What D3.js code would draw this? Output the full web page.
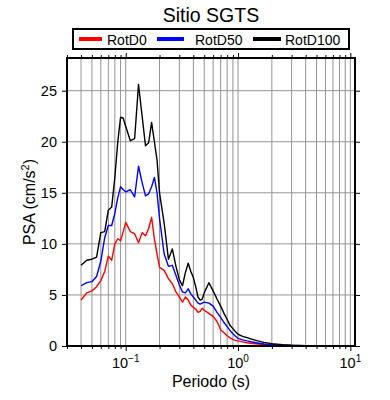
<!DOCTYPE html>
<html>
<head>
<meta charset="utf-8">
<script src="https://cdn.jsdelivr.net/npm/d3@7"></script>
<style>
  body { margin: 0; background: #fff; }
  text { font-family: "Liberation Sans", Arial, Helvetica, sans-serif; fill: #000; }
</style>
</head>
<body>
<svg id="chart" width="390" height="400"></svg>
<script>
// periods (s)
var periods = [0.04, 0.045, 0.05, 0.055, 0.06, 0.065, 0.07, 0.075, 0.08, 0.085, 0.09, 0.095,
  0.1, 0.11, 0.12, 0.13, 0.14, 0.15, 0.16, 0.17, 0.18, 0.19, 0.2, 0.22, 0.24, 0.26, 0.28,
  0.3, 0.32, 0.34, 0.36, 0.38, 0.4, 0.42, 0.44, 0.46, 0.48, 0.5, 0.55, 0.6, 0.65, 0.7,
  0.75, 0.8, 0.85, 0.9, 0.95, 1.0, 1.1, 1.2, 1.3, 1.5, 1.7, 2.0, 2.5, 3.0, 4.0, 5.0,
  6.0, 7.5, 10.0];

// PSA (cm/s2)
var rotD0 = [4.5, 5.2, 5.4, 5.8, 6.4, 7.3, 8.8, 8.4, 10.0, 10.5, 10.3, 11.2,
  12.1, 11.2, 11.0, 10.1, 11.1, 10.8, 11.5, 12.6, 10.5, 9.0, 7.7, 7.4, 6.6, 6.1, 5.3,
  4.8, 4.3, 4.8, 4.5, 4.0, 3.8, 3.6, 3.3, 3.4, 3.7, 3.5, 3.2, 2.9, 2.4, 1.6,
  1.3, 1.0, 0.8, 0.65, 0.55, 0.5, 0.4, 0.32, 0.27, 0.2, 0.15, 0.1, 0.06, 0.04, 0.02, 0.015,
  0.01, 0.01, 0.005];

var rotD50 = [5.9, 6.2, 6.3, 6.8, 8.3, 10.6, 11.8, 11.8, 13.0, 14.5, 15.6, 15.3,
  15.1, 15.3, 14.6, 17.6, 16.0, 14.7, 14.9, 15.6, 16.5, 15.0, 12.5, 9.0, 7.8, 7.9, 6.9,
  6.0, 5.3, 5.2, 5.6, 5.1, 4.8, 4.5, 4.2, 4.1, 4.2, 4.3, 4.2, 3.9, 3.3, 2.8,
  2.3, 1.9, 1.5, 1.2, 0.95, 0.75, 0.6, 0.5, 0.42, 0.3, 0.2, 0.14, 0.08, 0.05, 0.03, 0.02,
  0.015, 0.01, 0.005];

var rotD100 = [7.9, 8.4, 8.5, 8.7, 11.1, 11.2, 13.3, 13.6, 16.5, 20.0, 22.4, 22.3,
  21.5, 20.1, 20.3, 25.6, 22.5, 19.6, 19.9, 21.9, 20.0, 18.2, 15.0, 12.0, 8.5, 9.5, 7.8,
  6.5, 5.9, 7.2, 8.1, 7.3, 6.7, 5.8, 4.8, 4.5, 4.6, 5.2, 6.2, 5.4, 4.6, 3.9,
  3.2, 2.6, 2.0, 1.7, 1.4, 1.15, 0.95, 0.82, 0.7, 0.5, 0.35, 0.23, 0.13, 0.08, 0.04, 0.03,
  0.02, 0.01, 0.01];

var seriesNames = ["RotD0", "RotD50", "RotD100"];
var seriesColors = ["#ff0000", "#0000ff", "#000000"];
var seriesValues = [rotD0, rotD50, rotD100];

var xMajor = [0.1, 1, 10];
var xMajorExp = ["\u22121", "0", "1"];
var yTicks = [0, 5, 10, 15, 20, 25];

var svg = d3.select("#chart");

// plot box
var pLeft = 67, pRight = 355, pTop = 58, pBottom = 346;

var x = d3.scaleLog().domain([0.03, 11]).range([pLeft, pRight]);
var y = d3.scaleLinear().domain([0, 28.2]).range([pBottom, pTop]);

// all log ticks inside the domain (1..9 x 10^k)
var xAll = [];
[-2, -1, 0, 1].forEach(function (k) {
  for (var m = 1; m <= 9; m++) {
    var v = +(m * Math.pow(10, k)).toPrecision(3);
    if (v >= 0.03 && v <= 11) xAll.push(v);
  }
});
var xMinor = xAll.filter(function (d) { return xMajor.indexOf(d) < 0; });

// grid
svg.append("g")
  .selectAll("line")
  .data(xAll)
  .enter()
  .append("line")
  .attr("x1", function (d) { return x(d); })
  .attr("x2", function (d) { return x(d); })
  .attr("y1", pTop)
  .attr("y2", pBottom)
  .style("stroke", "#949494")
  .style("stroke-width", 1);

svg.append("g")
  .selectAll("line")
  .data(yTicks.slice(1))
  .enter()
  .append("line")
  .attr("x1", pLeft)
  .attr("x2", pRight)
  .attr("y1", function (d) { return y(d); })
  .attr("y2", function (d) { return y(d); })
  .style("stroke", "#949494")
  .style("stroke-width", 1);

// ticks with d3 axes, labels drawn separately
function styleAxis(g) {
  g.select(".domain").remove();
  g.selectAll(".tick line").style("stroke", "#000").style("stroke-width", 1);
  g.selectAll(".tick text").remove();
}

svg.append("g").attr("transform", "translate(0," + pBottom + ")")
  .call(d3.axisBottom(x).tickValues(xMajor).tickSize(5).tickFormat("")).call(styleAxis);
svg.append("g").attr("transform", "translate(0," + pBottom + ")")
  .call(d3.axisBottom(x).tickValues(xMinor).tickSize(3).tickFormat("")).call(styleAxis);
svg.append("g").attr("transform", "translate(0," + pTop + ")")
  .call(d3.axisTop(x).tickValues(xMajor).tickSize(5).tickFormat("")).call(styleAxis);
svg.append("g").attr("transform", "translate(0," + pTop + ")")
  .call(d3.axisTop(x).tickValues(xMinor).tickSize(3).tickFormat("")).call(styleAxis);
svg.append("g").attr("transform", "translate(" + pLeft + ",0)")
  .call(d3.axisLeft(y).tickValues(yTicks).tickSize(5).tickFormat("")).call(styleAxis);
svg.append("g").attr("transform", "translate(" + pRight + ",0)")
  .call(d3.axisRight(y).tickValues(yTicks).tickSize(5).tickFormat("")).call(styleAxis);

// data lines
var line = d3.line()
  .x(function (d, i) { return x(periods[i]); })
  .y(function (d) { return y(d); });

seriesValues.forEach(function (vals, s) {
  svg.append("path")
    .datum(vals)
    .attr("d", line)
    .style("fill", "none")
    .style("stroke", seriesColors[s])
    .style("stroke-width", 1.4)
    .style("stroke-linejoin", "round");
});

// frame
svg.append("rect")
  .attr("x", pLeft).attr("y", pTop)
  .attr("width", pRight - pLeft).attr("height", pBottom - pTop)
  .style("fill", "none").style("stroke", "#000").style("stroke-width", 2);

// x tick labels 10^k
var xl = svg.append("g").selectAll("text")
  .data(xMajor)
  .enter()
  .append("text")
  .attr("x", function (d) { return x(d); })
  .attr("y", 368)
  .attr("text-anchor", "middle")
  .style("font-size", "14.5px");
xl.append("tspan").text("10");
xl.append("tspan")
  .attr("dy", -6)
  .style("font-size", "10px")
  .text(function (d, i) { return xMajorExp[i]; });

// y tick labels
svg.append("g").selectAll("text")
  .data(yTicks)
  .enter()
  .append("text")
  .attr("x", 57)
  .attr("y", function (d) { return y(d); })
  .attr("dy", "0.36em")
  .attr("text-anchor", "end")
  .style("font-size", "14.5px")
  .text(function (d) { return d; });

// axis titles
svg.append("text")
  .attr("x", (pLeft + pRight) / 2)
  .attr("y", 387)
  .attr("text-anchor", "middle")
  .style("font-size", "16px")
  .text("Periodo (s)");

var yl = svg.append("text")
  .attr("transform", "translate(35," + (pTop + pBottom) / 2 + ") rotate(-90)")
  .attr("text-anchor", "middle")
  .style("font-size", "16px");
yl.append("tspan").text("PSA (cm/s");
yl.append("tspan").attr("dy", -6).style("font-size", "11px").text("2");
yl.append("tspan").attr("dy", 6).text(")");

// title
svg.append("text")
  .attr("x", (pLeft + pRight) / 2)
  .attr("y", 22)
  .attr("text-anchor", "middle")
  .style("font-size", "19.5px")
  .text("Sitio SGTS");

// legend
svg.append("rect")
  .attr("x", 73).attr("y", 29)
  .attr("width", 276).attr("height", 20)
  .style("fill", "#fff").style("stroke", "#000").style("stroke-width", 2);

var legLineX = [79, 157, 253];
var legLineW = [23, 27, 28];
var legTextX = [107, 195, 285];

seriesNames.forEach(function (name, s) {
  svg.append("line")
    .attr("x1", legLineX[s]).attr("x2", legLineX[s] + legLineW[s])
    .attr("y1", 39).attr("y2", 39)
    .style("stroke", seriesColors[s])
    .style("stroke-width", 4);
  svg.append("text")
    .attr("x", legTextX[s])
    .attr("y", 44.5)
    .style("font-size", "14px")
    .text(name);
});
</script>
</body>
</html>
